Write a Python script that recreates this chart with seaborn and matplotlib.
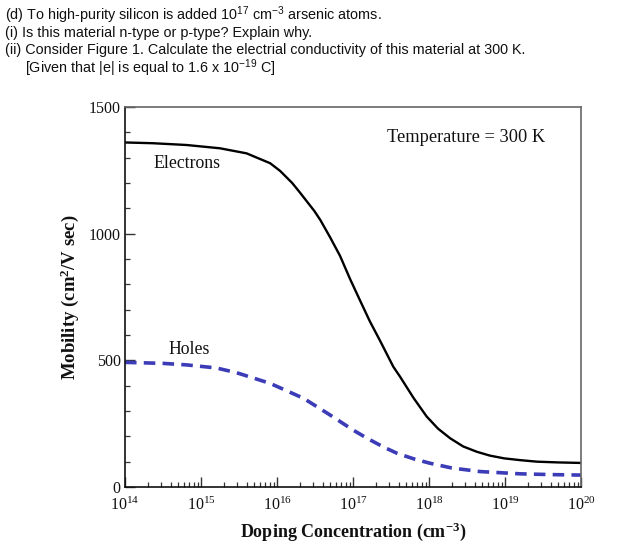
import numpy as np
import pandas as pd
import seaborn as sns
import matplotlib
matplotlib.use("Agg")
import matplotlib.pyplot as plt
from matplotlib.ticker import LogLocator, MultipleLocator, FixedLocator, NullFormatter

# ---- data ----
log_n_electrons = [14.0, 14.37, 14.81, 15.25, 15.6, 15.91, 16.04, 16.2, 16.3, 16.49,
                   16.57, 16.7, 16.83, 16.96, 17.09, 17.22, 17.36, 17.53, 17.62, 17.8,
                   17.97, 18.12, 18.28, 18.45, 18.63, 18.8, 18.99, 19.2, 19.42, 19.7, 20.0]
mu_electrons = [1360, 1357, 1350, 1337, 1317, 1278, 1248, 1200, 1163, 1090,
                1054, 985, 912, 822, 738, 655, 575, 475, 435, 350,
                278, 230, 192, 160, 139, 124, 113, 106, 100, 97, 95]

log_n_holes = [14.0, 14.5, 14.81, 15.2, 15.47, 15.91, 16.35, 16.7, 17.0, 17.2,
               17.4, 17.58, 17.8, 18.01, 18.3, 18.67, 19.2, 19.6, 20.0]
mu_holes = [492, 488, 482, 470, 451, 409, 350, 284, 225, 190,
            158, 133, 111, 94, 75, 61, 52, 49, 47]

x_tick_exponents = [14, 15, 16, 17, 18, 19, 20]
y_ticks = [0, 500, 1000, 1500]

header_lines = [
    r"(d) To high-purity silicon is added 10$\mathsf{^{17}}$ cm$\mathsf{^{-3}}$ arsenic atoms.",
    "(i) Is this material n-type or p-type? Explain why.",
    "(ii) Consider Figure 1. Calculate the electrial conductivity of this material at 300 K.",
    r"[Given that |e| is equal to 1.6 x 10$\mathsf{^{-19}}$ C]",
]

# ---- build table ----
df = pd.concat([
    pd.DataFrame({"N": np.power(10.0, log_n_electrons), "mu": mu_electrons, "carrier": "Electrons"}),
    pd.DataFrame({"N": np.power(10.0, log_n_holes), "mu": mu_holes, "carrier": "Holes"}),
], ignore_index=True)

sns.set_theme(style="white")
plt.rcParams["font.family"] = ["Liberation Serif", "DejaVu Serif"]
plt.rcParams["mathtext.fontset"] = "custom"
plt.rcParams["mathtext.rm"] = "Liberation Serif"
plt.rcParams["mathtext.it"] = "Liberation Serif:italic"
plt.rcParams["mathtext.bf"] = "Liberation Serif:bold"
plt.rcParams["mathtext.sf"] = "Liberation Sans"

fig = plt.figure(figsize=(6.18, 5.47), dpi=100)
ax = fig.add_axes([125 / 618, 1 - 487 / 547, 456 / 618, 380 / 547])

sns.lineplot(data=df[df.carrier == "Electrons"], x="N", y="mu", ax=ax,
             color="black", linewidth=1.7, legend=False)
sns.lineplot(data=df[df.carrier == "Holes"], x="N", y="mu", ax=ax,
             color="#3c3cb8", linewidth=2.6, linestyle=(0, (3.2, 2.0)), legend=False)

ax.set_xscale("log")
ax.set_xlim(1e14, 1e20)
ax.set_ylim(0, 1500)

ax.xaxis.set_major_locator(FixedLocator([10.0 ** e for e in x_tick_exponents]))
ax.set_xticklabels([r"$\mathrm{10^{%d}}$" % e for e in x_tick_exponents])
ax.xaxis.set_minor_locator(LogLocator(base=10, subs=np.arange(2, 10), numticks=100))
ax.xaxis.set_minor_formatter(NullFormatter())
ax.yaxis.set_major_locator(FixedLocator(y_ticks))
ax.set_yticklabels([str(v) for v in y_ticks])
ax.yaxis.set_minor_locator(MultipleLocator(100))

ax.tick_params(axis="both", which="major", direction="in", length=7, width=1.0,
               color="#333333", labelsize=11.5, bottom=True, left=True)
ax.tick_params(axis="x", which="major", pad=7)
ax.tick_params(axis="y", which="major", pad=3)
ax.tick_params(axis="both", which="minor", direction="in", length=3.5, width=0.9,
               color="#333333", bottom=True, left=True)
ax.tick_params(axis="y", which="both", right=False)
ax.tick_params(axis="x", which="both", top=False)
for lab in ax.get_xticklabels() + ax.get_yticklabels():
    lab.set_color("#111111")

for side in ["left", "bottom"]:
    ax.spines[side].set_color("#111111")
    ax.spines[side].set_linewidth(1.2)
for side in ["top", "right"]:
    ax.spines[side].set_color("#666666")
    ax.spines[side].set_linewidth(1.2)

ax.set_xlabel(r"Doping Concentration (cm$^{\mathbf{-3}}$)", fontsize=13,
              fontweight="bold", color="#111111", labelpad=5)
ax.set_ylabel(r"Mobility (cm$^{\mathbf{2}}$/V sec)", fontsize=13.5,
              fontweight="bold", color="#111111", labelpad=6)

ax.text(10 ** 14.37, 1278, "Electrons", fontsize=12.8, color="#111111", va="center", ha="left")
ax.text(10 ** 14.57, 542, "Holes", fontsize=12.8, color="#111111", va="center", ha="left")
ax.text(10 ** 17.45, 1378, "Temperature = 300 K", fontsize=13.2, color="#111111", va="center", ha="left")

# header question text
ys = [15, 33, 50, 68]
xs = [5, 5, 5, 25]
for txt, y, x in zip(header_lines, ys, xs):
    fig.text(x / 618, 1 - y / 547, txt, fontsize=10.4, family=["Liberation Sans", "DejaVu Sans"],
             va="center", ha="left", color="#111111")

fig.savefig("out.png", dpi=100)
